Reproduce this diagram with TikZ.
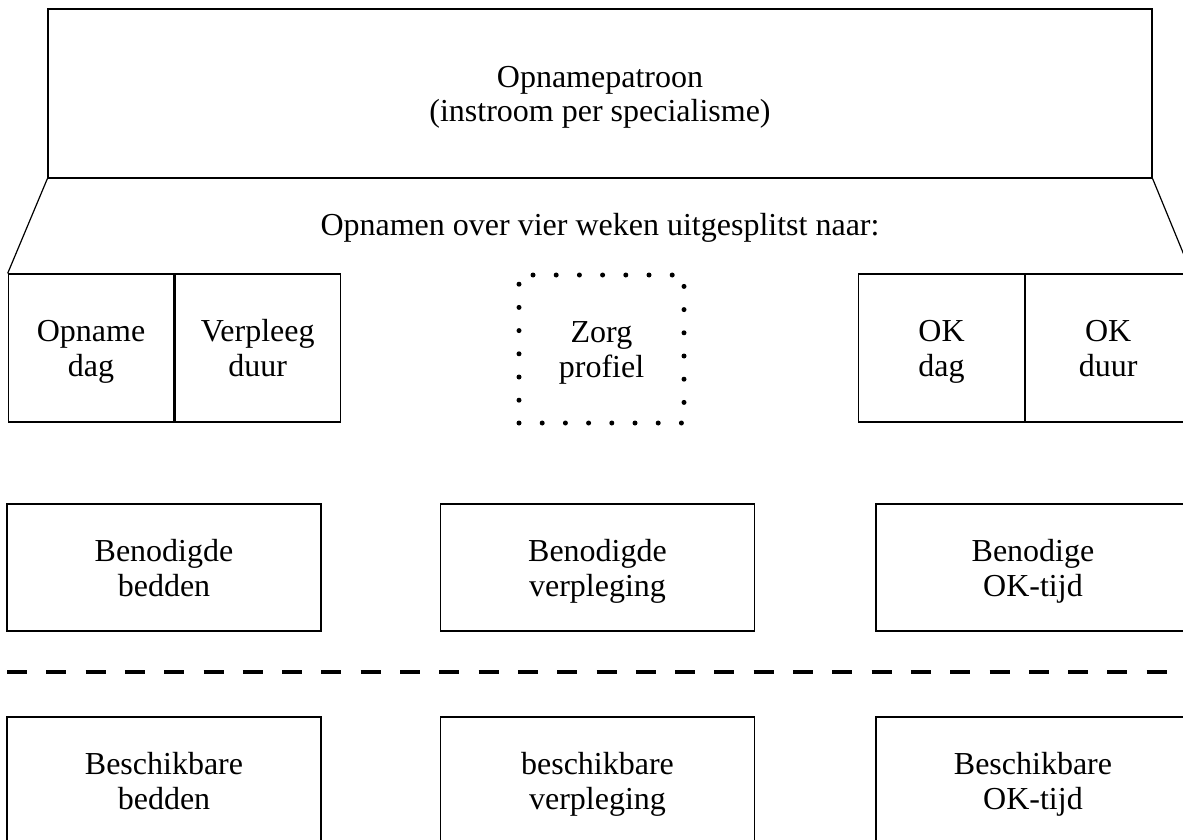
\documentclass[tikz,border=0pt]{standalone}
\usepackage{fontspec}
\setmainfont{Liberation Serif}
\usetikzlibrary{positioning}

% twee regels tekst met vaste hoogte en diepte
\newcommand{\regels}[2]{\rule{0pt}{32.5pt}#1\\#2\rule[-10.5pt]{0pt}{0pt}}

\begin{document}
\begin{tikzpicture}[x=1pt, y=-1pt,
    vak/.style={draw, line width=1.2pt, align=center, inner sep=0pt, font=\fontsize{32}{35}\selectfont},
    cel/.style={vak, minimum width=165.5pt, minimum height=148pt},
    blok/.style={vak, minimum width=314pt, minimum height=127pt},
    stippel/.style={vak, draw, line width=5pt, line cap=round, dash pattern=on 0pt off 23.2pt, minimum width=165pt, minimum height=148pt}]
    \clip (0,0) rectangle (1183,840);
    % bovenste vak met de trechter eronder
    \node[vak, minimum width=1104pt, minimum height=169pt] (patroon) at (600,93.5) {\regels{Opnamepatroon}{(instroom per specialisme)}};
    \node[cel]                          (opnamedag)    at (91,348)    {\regels{Opname}{dag}};
    \node[cel, right=0pt of opnamedag]  (verpleegduur)                {\regels{Verpleeg}{duur}};
    \node[cel]                          (okdag)        at (941.5,348) {\regels{OK}{dag}};
    \node[cel, right=0pt of okdag]      (okduur)                      {\regels{OK}{duur}};
    \node[stippel]                      (zorgprofiel)  at (601.5,349) {\regels{Zorg}{profiel}};
    \node[font=\fontsize{32}{35}\selectfont] (uitsplitsing) at (600,228) {Opnamen over vier weken uitgesplitst naar:};
    \draw[line width=1.2pt] (patroon.south west) -- (opnamedag.north west);
    \draw[line width=1.2pt] (patroon.south east) -- (okduur.north east);
    % benodigd
    \node[blok] (bedden)     at (164,567.5)   {\regels{Benodigde}{bedden}};
    \node[blok] (verpleging) at (597.5,567.5) {\regels{Benodigde}{verpleging}};
    \node[blok] (oktijd)     at (1033,567.5)  {\regels{Benodige}{OK-tijd}};
    % scheidingslijn
    \coordinate (streepL) at (7,672);
    \coordinate (streepR) at (1200,672);
    \draw[line width=4pt, dash pattern=on 20pt off 19.3pt] (streepL) -- (streepR);
    % beschikbaar
    \node[blok] (bedbeschikbaar)   at (164,780.5)   {\regels{Beschikbare}{bedden}};
    \node[blok] (verplbeschikbaar) at (597.5,780.5) {\regels{beschikbare}{verpleging}};
    \node[blok] (okbeschikbaar)    at (1033,780.5)  {\regels{Beschikbare}{OK-tijd}};
\end{tikzpicture}
\end{document}
